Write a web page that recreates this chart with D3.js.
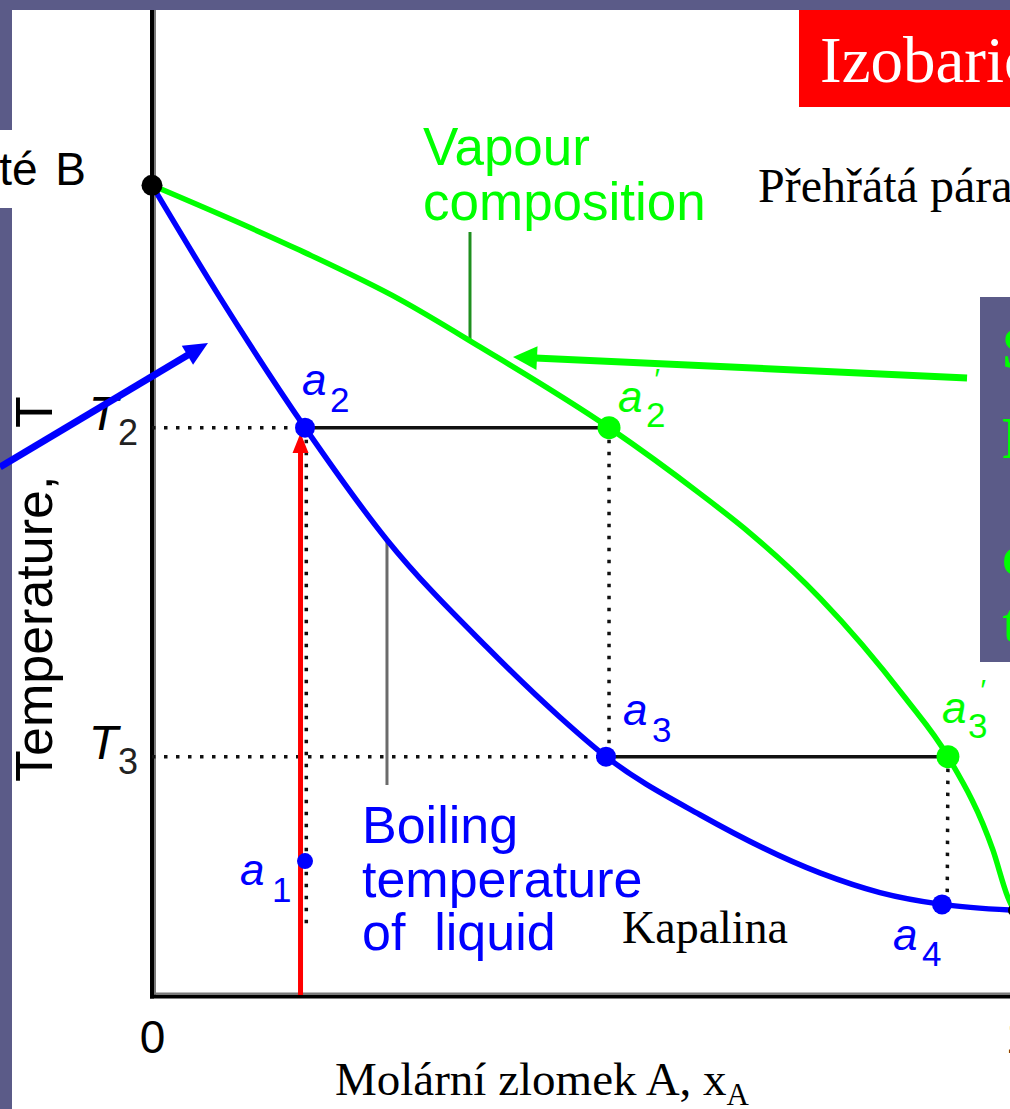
<!DOCTYPE html>
<html><head><meta charset="utf-8">
<script src="https://cdn.jsdelivr.net/npm/d3@7"></script>
<style>
html,body{margin:0;padding:0;background:#fff;overflow:hidden}
svg{display:block}
</style></head><body>
<svg id="c" width="1010" height="1109"></svg>
<script>
// ---------- data (mole fraction of A, temperature in arbitrary units) ----------
const liquidX = [0, 0.0789, 0.1775, 0.2726, 0.3886, 0.4733, 0.5267, 0.6357, 0.7749, 0.8445, 0.9165, 1.0];
const liquidT = [82.2, 70.8, 57.6, 46.2, 35.3, 28.2, 24.2, 18.3, 12.4, 10.4, 9.2, 8.6];
const vapourX = [0, 0.1717, 0.2877, 0.3805, 0.5302, 0.6357, 0.6937, 0.7749, 0.8735, 0.9234, 0.9756, 0.9930, 1.0];
const vapourT = [82.2, 75.6, 70.6, 65.8, 57.6, 50.9, 46.9, 40.3, 30.2, 24.2, 14.7, 9.9, 8.6];
const xTicks = [0, 1];
const xTickLabels = ["0", "1"];
const tieT = [57.6, 24.2];            // T2, T3
const tieSubs = ["2", "3"];
const pointNames = ["a1", "a2", "a2'", "a3", "a3'", "a4"];
const pointX = [0.1775, 0.1775, 0.5302, 0.5267, 0.9234, 0.9165];
const pointT = [13.6, 57.6, 57.6, 24.2, 24.2, 9.2];
const pointPhase = ["liquid", "liquid", "vapour", "liquid", "vapour", "liquid"];
const pureX = [0, 1];
const pureT = [82.2, 8.6];

// ---------- setup ----------
const W = 1010, H = 1109;
const svg = d3.select("#c");
const x = d3.scaleLinear().domain([0, 1]).range([152, 1014]);
const y = d3.scaleLinear().domain([0, 100]).range([995, 10]);
const SANS = "'Liberation Sans', Arial, Helvetica, sans-serif";
const SERIF = "'Liberation Serif', 'Times New Roman', serif";
const PURPLE = "#5b5b88", BLUE = "#0000ff", GREEN = "#00ff00", RED = "#ff0000";

// background / slide frame
svg.append("rect").attr("width", W).attr("height", H).attr("fill", "#fff");
svg.append("rect").attr("x", 0).attr("y", 0).attr("width", W).attr("height", 10).attr("fill", PURPLE);
svg.append("rect").attr("x", 0).attr("y", 0).attr("width", 12).attr("height", H).attr("fill", PURPLE);

// red title box
svg.append("rect").attr("x", 799).attr("y", 10).attr("width", W - 799).attr("height", 97).attr("fill", RED);
svg.append("text").attr("x", 820).attr("y", 82).attr("font-family", SERIF).attr("font-size", 65)
  .attr("fill", "#fff").text("Izobaric");

// right purple note box
svg.append("rect").attr("x", 980).attr("y", 297).attr("width", 30).attr("height", 365).attr("fill", PURPLE);
const noteLetters = ["S", "P", "c", "t"];
const noteBase = [368, 458, 575, 642];
noteLetters.forEach((t, i) => svg.append("text").attr("x", 1002).attr("y", noteBase[i])
  .attr("font-family", SERIF).attr("font-weight", "bold").attr("font-size", 60).attr("fill", GREEN).text(t));

// left label box
svg.append("rect").attr("x", 0).attr("y", 130).attr("width", 120).attr("height", 78).attr("fill", "#fff");
svg.append("text").attr("x", 86).attr("y", 185).attr("text-anchor", "end").attr("font-family", SANS)
  .attr("font-size", 46).attr("word-spacing", 5).attr("fill", "#000").text("čisté B");

// ---------- axes ----------
const gx = svg.append("g").attr("transform", `translate(0,${y(0) + 1.5})`)
  .call(d3.axisBottom(x).tickValues(xTicks).tickFormat((d, i) => xTickLabels[i]).tickSize(0).tickPadding(24));
gx.select(".domain").remove();
gx.selectAll("text").attr("font-family", SANS).attr("font-size", 46).attr("fill", "#000")
  .attr("dx", d => d === 1 ? 4 : 0);

const gy = svg.append("g").attr("transform", `translate(${x(0)},0)`)
  .call(d3.axisLeft(y).tickValues(tieT).tickSize(0).tickPadding(14));
gy.select(".domain").remove();
gy.selectAll("text").each(function (d, i) {
  const t = d3.select(this).text(null).attr("dy", "0.15em").attr("fill", "#000");
  t.append("tspan").attr("font-family", SANS).attr("font-style", "italic").attr("font-size", 48).text("T");
  t.append("tspan").attr("font-family", SANS).attr("font-size", 36).attr("dy", 15).attr("fill", "#222").text(tieSubs[i]);
});

// axis lines
svg.append("line").attr("x1", x(0)).attr("x2", x(0)).attr("y1", 10).attr("y2", y(0) + 3.5)
  .attr("stroke", "#000").attr("stroke-width", 4);
svg.append("line").attr("x1", x(0) + 3).attr("x2", x(0) + 3).attr("y1", 10).attr("y2", y(0))
  .attr("stroke", "#7a7a7a").attr("stroke-width", 2);
svg.append("line").attr("x1", x(0) - 2).attr("x2", W).attr("y1", y(0) + 1.5).attr("y2", y(0) + 1.5)
  .attr("stroke", "#000").attr("stroke-width", 4);
svg.append("line").attr("x1", x(0) + 2).attr("x2", W).attr("y1", y(0) - 1.5).attr("y2", y(0) - 1.5)
  .attr("stroke", "#7a7a7a").attr("stroke-width", 2);

// axis titles
const yl = svg.append("text").attr("transform", "translate(52,782) rotate(-90)")
  .attr("font-family", SANS).attr("font-size", 52).attr("fill", "#000");
yl.append("tspan").text("Temperature,");
yl.append("tspan").attr("x", 354).text("T");

const xl = svg.append("text").attr("x", 335).attr("y", 1095).attr("font-family", SERIF)
  .attr("font-size", 47).attr("fill", "#000");
xl.append("tspan").text("Molární zlomek A, x");
xl.append("tspan").attr("font-size", 31).attr("dy", 10).text("A");

// ---------- guide lines ----------
const dotted = (x1, t1, x2, t2) => svg.append("line")
  .attr("x1", x(x1)).attr("y1", y(t1)).attr("x2", x(x2)).attr("y2", y(t2))
  .attr("stroke", "#111").attr("stroke-width", 3.5).attr("stroke-dasharray", "3.5 8.5");
const solid = (x1, t1, x2, t2) => svg.append("line")
  .attr("x1", x(x1)).attr("y1", y(t1)).attr("x2", x(x2)).attr("y2", y(t2))
  .attr("stroke", "#111").attr("stroke-width", 3.5);

// T2 tie line
dotted(0, tieT[0], pointX[1], tieT[0]);
solid(pointX[1], tieT[0], pointX[2], tieT[0]);
// T3 tie line
dotted(0, tieT[1], pointX[3], tieT[1]);
solid(pointX[3], tieT[1], pointX[4], tieT[1]);
// verticals
dotted(pointX[1] + 0.0015, tieT[0], pointX[1] + 0.0015, 6.6);
dotted(pointX[2], tieT[0], pointX[2], tieT[1]);
dotted(pointX[4], tieT[1], pointX[5] + 0.006, pointT[5]);

// leader lines
svg.append("line").attr("x1", x(0.3689)).attr("x2", x(0.3689)).attr("y1", y(77.46)).attr("y2", y(66.19))
  .attr("stroke", "#1f8f1f").attr("stroke-width", 3);
svg.append("line").attr("x1", x(0.2726)).attr("x2", x(0.2726)).attr("y1", y(46.19)).attr("y2", y(21.32))
  .attr("stroke", "#6b6b6b").attr("stroke-width", 3);

// ---------- curves ----------
const line = d3.line().x(d => x(d[0])).y(d => y(d[1])).curve(d3.curveMonotoneX);
svg.append("path").attr("d", line(vapourX.map((v, i) => [v, vapourT[i]])))
  .attr("fill", "none").attr("stroke", GREEN).attr("stroke-width", 5.5);
svg.append("path").attr("d", line(liquidX.map((v, i) => [v, liquidT[i]])))
  .attr("fill", "none").attr("stroke", BLUE).attr("stroke-width", 5.5);

// ---------- arrows ----------
function arrow(x1, t1, x2, t2, color, w, L, hw) {
  const sx = x(x1), sy = y(t1), ex = x(x2), ey = y(t2);
  const dx = ex - sx, dy = ey - sy, len = Math.hypot(dx, dy);
  const ux = dx / len, uy = dy / len, px = -uy, py = ux;
  const bx = ex - ux * L, by = ey - uy * L;
  svg.append("line").attr("x1", sx).attr("y1", sy).attr("x2", bx + ux * 2).attr("y2", by + uy * 2)
    .attr("stroke", color).attr("stroke-width", w);
  svg.append("path").attr("d", `M${ex},${ey}L${bx + px * hw},${by + py * hw}L${bx - px * hw},${by - py * hw}Z`)
    .attr("fill", color);
}
arrow(0.1723, 0, 0.1723, 57.06, RED, 5, 20, 8);

// ---------- points ----------
svg.selectAll("circle.pt").data(pointNames).join("circle").attr("class", "pt")
  .attr("cx", (d, i) => x(pointX[i])).attr("cy", (d, i) => y(pointT[i]))
  .attr("r", (d, i) => pointPhase[i] === "vapour" ? 11.5 : (i === 0 ? 8 : 10))
  .attr("fill", (d, i) => pointPhase[i] === "vapour" ? GREEN : BLUE);
svg.selectAll("circle.pure").data(pureX).join("circle").attr("class", "pure")
  .attr("cx", d => x(d)).attr("cy", (d, i) => y(pureT[i])).attr("r", (d, i) => i === 0 ? 10.5 : 6).attr("fill", "#000");

// point labels (offsets from the point, in px)
const offA = [[-65, 24], [-3, -33], [9, -16], [17, -32], [-6, -34], [-49, 46]];
const offS = [[-33, 41], [25, -16], [37, -1], [46, -15], [20, -19], [-20, 62]];
const offP = [null, null, [44, -39], null, [31, -57], null];
pointNames.forEach((n, i) => {
  const cx = x(pointX[i]), cy = y(pointT[i]);
  const col = pointPhase[i] === "vapour" ? GREEN : BLUE;
  svg.append("text").attr("x", cx + offA[i][0]).attr("y", cy + offA[i][1]).attr("font-family", SANS)
    .attr("font-style", "italic").attr("font-size", 44).attr("fill", col).text("a");
  svg.append("text").attr("x", cx + offS[i][0]).attr("y", cy + offS[i][1]).attr("font-family", SANS)
    .attr("font-size", 35).attr("fill", col).text(n.charAt(1));
  if (offP[i]) svg.append("text").attr("x", cx + offP[i][0]).attr("y", cy + offP[i][1]).attr("font-family", SANS)
    .attr("font-style", "italic").attr("font-size", 30).attr("fill", col).text("′");
});

// ---------- text annotations ----------
const vap = svg.append("text").attr("font-family", SANS).attr("font-size", 53).attr("fill", GREEN);
vap.append("tspan").attr("x", 423).attr("y", 165).text("Vapour");
vap.append("tspan").attr("x", 423).attr("y", 220).text("composition");

const boil = svg.append("text").attr("font-family", SANS).attr("font-size", 52).attr("fill", BLUE);
boil.append("tspan").attr("x", 362).attr("y", 843).text("Boiling");
boil.append("tspan").attr("x", 362).attr("y", 897).text("temperature");
boil.append("tspan").attr("x", 362).attr("y", 950).text("of\u00a0\u00a0liquid");

svg.append("text").attr("x", 758).attr("y", 202).attr("font-family", SERIF).attr("font-size", 48)
  .attr("fill", "#000").text("Přehřátá pára");
svg.append("text").attr("x", 622).attr("y", 943).attr("font-family", SERIF).attr("font-size", 46)
  .attr("fill", "#000").text("Kapalina");

// pointer arrows
arrow(-0.1763, 53.6, 0.0650, 66.19, BLUE, 7, 24, 11);
arrow(0.9455, 62.64, 0.4188, 64.77, GREEN, 7, 24, 12);
</script>
</body></html>
